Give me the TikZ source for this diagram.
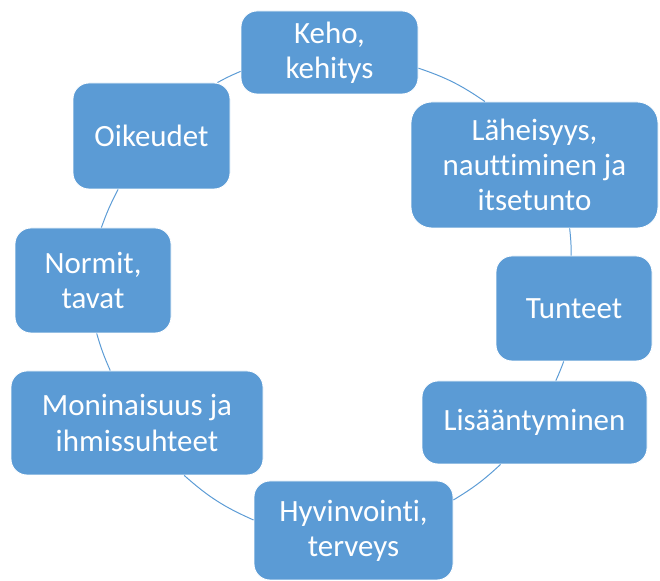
\documentclass[tikz,border=0pt]{standalone}
\usepackage{fontspec}
\setmainfont{Carlito}[Ligatures=NoCommon]
\definecolor{boxblue}{HTML}{5B9BD5}
\begin{document}
\begin{tikzpicture}[
    box/.style 2 args={draw=white,line width=0.6pt,fill=boxblue,text=white,
        rounded corners=0.4cm,align=center,inner sep=2pt,
        minimum width=#1,minimum height=#2,
        font=\fontsize{22}{25}\selectfont},
    link/.style={draw=boxblue,line width=0.7pt}
    ]
        \useasboundingbox (0,0) rectangle (16.5,14.525);
        \node[box={4.425cm}{2.075cm}] (keho) at (8.2375,13.2125){Keho,\\kehitys};
        \node[box={6.175cm}{3.15cm},rounded corners=0.52cm] (laheisyys) at (13.3625,10.4){Läheisyys,\\nauttiminen ja\\itsetunto};
        \node[box={3.9cm}{2.625cm}] (tunteet) at (14.35,6.8125){Tunteet};
        \node[box={5.625cm}{2.075cm}] (lisaantyminen) at (13.3625,3.9625){Lisääntyminen};
        \node[box={4.975cm}{2.475cm}] (hyvinvointi) at (8.8375,1.2625){Hyvinvointi,\\terveys};
        \node[box={6.3cm}{2.6cm}] (moninaisuus) at (3.425,3.95){Moninaisuus ja\\ihmissuhteet};
        \node[box={3.9cm}{2.625cm}] (normit) at (2.325,7.5125){Normit,\\tavat};
        \node[box={3.925cm}{2.65cm}] (oikeudet) at (3.7875,11.125){Oikeudet};
        % arcs of the circle between the boxes
        \foreach \from/\fa/\to/\ta/\ang in {keho/350/laheisyys/128/8,
            laheisyys/299/tunteet/93/3,tunteet/259/lisaantyminen/63/2,
            lisaantyminen/231/hyvinvointi/17/6,hyvinvointi/174/moninaisuus/312/9,
            moninaisuus/117/normit/274/4,normit/81/oikeudet/238/4,
            oikeudet/39/keho/192/3}
            \draw[link] (\from.\fa) to[bend left=\ang] (\to.\ta);
    \end{tikzpicture}
\end{document}
